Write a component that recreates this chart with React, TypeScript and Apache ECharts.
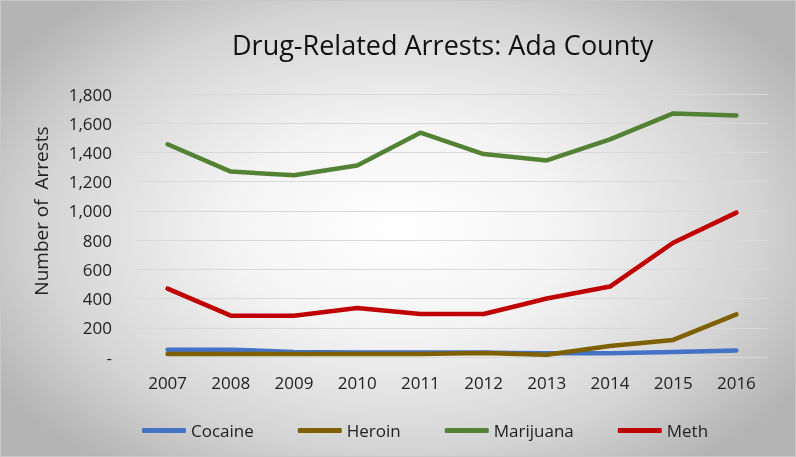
import React, { useEffect, useRef } from "react";
import * as echarts from "echarts";

const years = ["2007", "2008", "2009", "2010", "2011", "2012", "2013", "2014", "2015", "2016"];
const cocaine = [50, 50, 35, 30, 30, 30, 25, 25, 35, 45];
const heroin = [20, 20, 20, 20, 20, 27, 16, 75, 117, 292];
const marijuana = [1456, 1269, 1244, 1311, 1535, 1389, 1345, 1490, 1667, 1653];
const meth = [468, 283, 283, 335, 294, 294, 400, 482, 782, 988];

const font = "'Open Sans', Lato, sans-serif";

export default function App() {
  const ref = useRef<HTMLDivElement>(null);
  useEffect(() => {
    const chart = echarts.init(ref.current!, null, { renderer: "svg" });
    const mk = (name: string, data: number[], color: string) => ({
      name,
      type: "line",
      data,
      symbol: "none",
      lineStyle: { width: 4.5, color, cap: "round", join: "round" },
      itemStyle: { color },
    });
    chart.setOption({
      animation: false,
      textStyle: { fontFamily: font },
      title: {
        text: "Drug-Related Arrests: Ada County",
        left: 226,
        top: 25,
        textStyle: { fontFamily: font, fontSize: 27, fontWeight: "normal", color: "#111" },
      },
      grid: { left: 135, right: 27, top: 93, bottom: 99 },
      legend: {
        bottom: 12,
        left: 136,
        itemWidth: 44,
        itemHeight: 5,
        itemGap: 44,
        icon: "roundRect",
        textStyle: { fontSize: 17, color: "#222", padding: [0, 0, 0, 0] },
        data: ["Cocaine", "Heroin", "Marijuana", "Meth"],
      },
      graphic: [
        {
          type: "text",
          x: 40,
          y: 210,
          rotation: Math.PI / 2,
          style: {
            text: "Number of  Arrests",
            fontFamily: font,
            fontSize: 19,
            fill: "#222",
            align: "center",
            verticalAlign: "middle",
          },
        },
      ],
      xAxis: {
        type: "category",
        data: years,
        boundaryGap: true,
        axisLine: { show: false },
        axisTick: { show: false },
        axisLabel: { fontSize: 17, color: "#222", margin: 17 },
      },
      yAxis: {
        type: "value",
        min: 0,
        max: 1800,
        interval: 200,
        axisLabel: {
          fontSize: 17,
          color: "#222",
          margin: 24,
          formatter: (v: number) => (v === 0 ? "-" : v.toLocaleString("en-US")),
        },
        splitLine: { lineStyle: { color: "#d9d9d9", width: 1.2 } },
      },
      series: [
        mk("Cocaine", cocaine, "#4472c4"),
        mk("Heroin", heroin, "#7f6000"),
        mk("Marijuana", marijuana, "#548235"),
        mk("Meth", meth, "#c00000"),
      ],
    });
    return () => chart.dispose();
  }, []);
  return (
    <div
      style={{
        position: "fixed",
        left: 0,
        top: 0,
        width: 796,
        height: 457,
        boxSizing: "border-box",
        border: "1px solid #c8c8c8",
        background: "radial-gradient(ellipse 60% 65% at 50% 50%, #ffffff 0%, #f4f4f4 35%, #d4d4d4 75%, #b4b4b4 100%)",
      }}
    >
      <div ref={ref} style={{ width: "100%", height: "100%" }} />
    </div>
  );
}
